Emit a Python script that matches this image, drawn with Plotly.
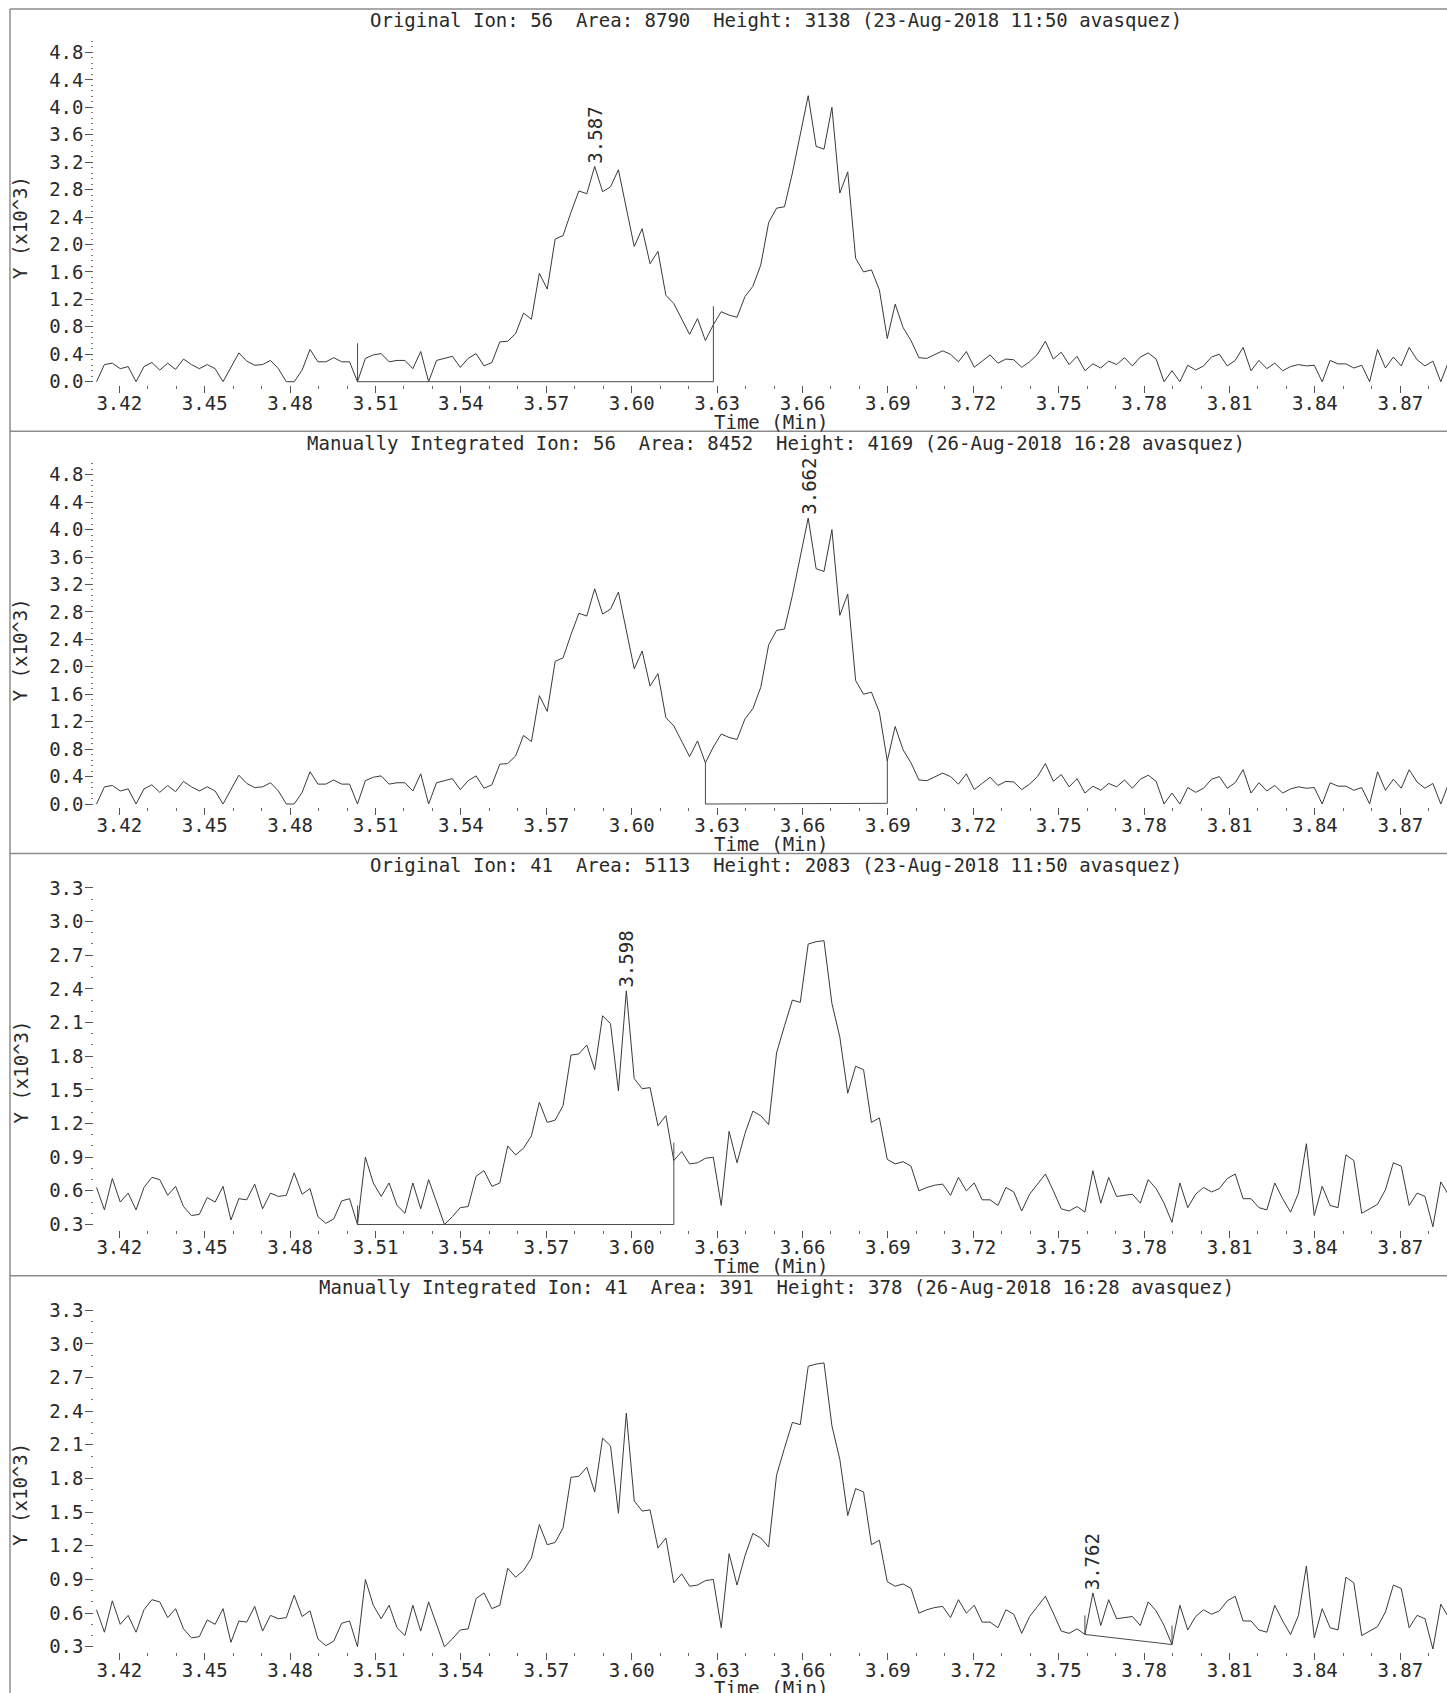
import plotly.graph_objects as go

W, H = 1447, 1693

# ---------------- data ----------------
SCAN_START = 3.412          # retention time of first scan (min)
SCAN_INTERVAL = 1 / 360.0   # min between scans

ION56 = [0.00, 0.25, 0.27, 0.19, 0.22, 0.00, 0.22, 0.28, 0.17, 0.27,
         0.18, 0.33, 0.25, 0.19, 0.25, 0.19, 0.00, 0.22, 0.42, 0.30,
         0.24, 0.25, 0.31, 0.19, 0.00, 0.00, 0.17, 0.47, 0.29, 0.29,
         0.35, 0.29, 0.29, 0.00, 0.34, 0.39, 0.41, 0.29, 0.31, 0.31,
         0.19, 0.44, 0.00, 0.31, 0.34, 0.37, 0.21, 0.34, 0.41, 0.23,
         0.28, 0.58, 0.59, 0.70, 1.00, 0.91, 1.58, 1.35, 2.08, 2.13,
         2.47, 2.78, 2.74, 3.138, 2.77, 2.84, 3.09, 2.55, 1.97, 2.23,
         1.72, 1.90, 1.26, 1.14, 0.92, 0.69, 0.92, 0.60, 0.83, 1.02,
         0.97, 0.94, 1.24, 1.39, 1.70, 2.32, 2.53, 2.55, 3.04, 3.62,
         4.169, 3.43, 3.39, 4.00, 2.75, 3.06, 1.80, 1.60, 1.63, 1.34,
         0.63, 1.13, 0.79, 0.60, 0.35, 0.34, 0.39, 0.45, 0.40, 0.29,
         0.44, 0.21, 0.30, 0.39, 0.27, 0.33, 0.32, 0.21, 0.29, 0.40,
         0.59, 0.33, 0.43, 0.25, 0.37, 0.16, 0.26, 0.20, 0.30, 0.25,
         0.35, 0.23, 0.36, 0.42, 0.33, 0.00, 0.16, 0.00, 0.24, 0.17,
         0.23, 0.36, 0.40, 0.23, 0.31, 0.50, 0.16, 0.31, 0.19, 0.27,
         0.16, 0.22, 0.25, 0.23, 0.24, 0.00, 0.31, 0.26, 0.26, 0.20,
         0.24, 0.00, 0.47, 0.20, 0.36, 0.23, 0.50, 0.32, 0.23, 0.30,
         0.00, 0.30]

ION41 = [0.63, 0.43, 0.71, 0.50, 0.58, 0.43, 0.63, 0.72, 0.70, 0.56,
         0.64, 0.46, 0.38, 0.39, 0.54, 0.50, 0.64, 0.34, 0.53, 0.52,
         0.66, 0.44, 0.58, 0.55, 0.56, 0.76, 0.57, 0.62, 0.37, 0.31,
         0.35, 0.51, 0.53, 0.30, 0.90, 0.67, 0.55, 0.67, 0.47, 0.40,
         0.67, 0.44, 0.70, 0.50, 0.30, 0.37, 0.45, 0.46, 0.73, 0.78,
         0.64, 0.67, 1.00, 0.92, 0.98, 1.09, 1.39, 1.21, 1.23, 1.36,
         1.81, 1.82, 1.90, 1.68, 2.16, 2.09, 1.49, 2.383, 1.60, 1.51,
         1.52, 1.18, 1.27, 0.87, 0.95, 0.84, 0.85, 0.89, 0.90, 0.47,
         1.13, 0.85, 1.11, 1.31, 1.27, 1.19, 1.83, 2.07, 2.30, 2.28,
         2.80, 2.82, 2.83, 2.27, 1.97, 1.47, 1.71, 1.68, 1.21, 1.25,
         0.88, 0.84, 0.86, 0.82, 0.60, 0.63, 0.65, 0.66, 0.56, 0.72,
         0.60, 0.67, 0.52, 0.52, 0.47, 0.63, 0.59, 0.42, 0.57, 0.66,
         0.75, 0.60, 0.44, 0.42, 0.46, 0.41, 0.78, 0.49, 0.72, 0.55,
         0.56, 0.57, 0.49, 0.70, 0.62, 0.49, 0.32, 0.67, 0.45, 0.57,
         0.63, 0.59, 0.62, 0.71, 0.75, 0.53, 0.53, 0.45, 0.43, 0.67,
         0.53, 0.41, 0.58, 1.02, 0.38, 0.64, 0.47, 0.45, 0.92, 0.87,
         0.40, 0.44, 0.48, 0.61, 0.85, 0.82, 0.47, 0.58, 0.55, 0.28,
         0.68, 0.56]

TITLES = [
    "Original Ion: 56  Area: 8790  Height: 3138 (23-Aug-2018 11:50 avasquez)",
    "Manually Integrated Ion: 56  Area: 8452  Height: 4169 (26-Aug-2018 16:28 avasquez)",
    "Original Ion: 41  Area: 5113  Height: 2083 (23-Aug-2018 11:50 avasquez)",
    "Manually Integrated Ion: 41  Area: 391  Height: 378 (26-Aug-2018 16:28 avasquez)",
]

# integration baselines (time, value) polylines per panel
INT_T = [[3.5037, 3.5037, 3.6287, 3.6287],
         [3.6259, 3.6259, 3.6898, 3.6898],
         [3.5037, 3.5037, 3.6148, 3.6148],
         [3.7592, 3.7592, 3.7898, 3.7898]]
INT_Y = [[0.56, 0.00, 0.00, 1.10],
         [0.60, 0.00, 0.01, 0.66],
         [0.47, 0.30, 0.30, 1.03],
         [0.58, 0.41, 0.32, 0.49]]

# labelled peaks (time, value, label)
PEAK_T = [3.5870, 3.6620, 3.5981, 3.7620]
PEAK_Y = [3.138, 4.169, 2.383, 0.78]
PEAK_LABEL = ["3.587", "3.662", "3.598", "3.762"]

X_TICK0, X_DTICK, X_MINOR = 3.42, 0.03, 0.01
Y_TICKS = [(0.0, 0.4, 0.08), (0.0, 0.4, 0.08), (0.3, 0.3, 0.1), (0.3, 0.3, 0.1)]
Y_RANGES = [(-0.048, 5.0), (-0.048, 5.0), (0.2554, 3.31), (0.2554, 3.31)]
X_RANGE = (3.41122, 3.8864)

# ---------------- layout geometry (pixels) ----------------
PANEL_TOPS = [9, 431.3, 853.5, 1275.8]
PLOT_LEFT = 94.3
Y_SCALE = [68.6, 68.6, 112.2, 112.2]   # px per unit
FONT = "DejaVu Sans Mono"
TXT = "#2a2a2a"
LINE = "#3a3a3a"

times = [SCAN_START + i * SCAN_INTERVAL for i in range(len(ION56))]
series = [ION56, ION56, ION41, ION41]

fig = go.Figure()
layout = dict(width=W, height=H, margin=dict(l=0, r=0, t=0, b=0, pad=0, autoexpand=False),
              paper_bgcolor="white", plot_bgcolor="white", showlegend=False)
annotations = []
shapes = []

for k in range(4):
    top = PANEL_TOPS[k]
    bottom_px = top + 376
    y0, y1 = Y_RANGES[k]
    top_px = bottom_px - (y1 - y0) * Y_SCALE[k]
    sfx = "" if k == 0 else str(k + 1)
    xa, ya = "x" + sfx, "y" + sfx
    tick0, dtick, minor = Y_TICKS[k]

    layout["xaxis" + sfx] = dict(
        domain=[PLOT_LEFT / W, 1.0], range=list(X_RANGE), anchor=ya, automargin=False,
        showgrid=False, zeroline=False, showline=False,
        ticks="outside", ticklen=7, tickwidth=1, tickcolor="#555",
        tickmode="linear", tick0=X_TICK0, dtick=X_DTICK, tickformat=".2f",
        ticklabelstandoff=-6,
        tickfont=dict(family=FONT, size=19, color=TXT),
        minor=dict(ticks="outside", ticklen=3, tickwidth=1, tickcolor="#666",
                   tick0=X_TICK0, dtick=X_MINOR, showgrid=False),
    )
    layout["yaxis" + sfx] = dict(
        domain=[1 - bottom_px / H, 1 - top_px / H], range=[y0, y1], anchor=xa, automargin=False,
        showgrid=False, zeroline=False, showline=False,
        ticks="outside", ticklen=8, tickwidth=1, tickcolor="#555",
        tickmode="linear", tick0=tick0, dtick=dtick, tickformat=".1f",
        ticklabelstandoff=-2,
        tickfont=dict(family=FONT, size=19, color=TXT),
        minor=dict(ticks="outside", ticklen=2, tickwidth=1, tickcolor="#777",
                   tick0=tick0, dtick=minor, showgrid=False),
    )

    fig.add_trace(go.Scatter(x=times, y=series[k], mode="lines", xaxis=xa, yaxis=ya,
                             line=dict(color=LINE, width=1), hoverinfo="skip"))
    fig.add_trace(go.Scatter(x=INT_T[k], y=INT_Y[k], mode="lines", xaxis=xa, yaxis=ya,
                             line=dict(color="#4a4a4a", width=1), hoverinfo="skip"))

    # title
    annotations.append(dict(text=TITLES[k].replace("  ", " \u00a0"), xref="paper", yref="paper",
                            x=776 / W, y=1 - (top + 11.5) / H, xanchor="center", yanchor="middle",
                            showarrow=False, font=dict(family=FONT, size=19, color=TXT)))
    # y axis title
    annotations.append(dict(text="Y (x10^3)", xref="paper", yref="paper", textangle=-90,
                            x=20 / W, y=1 - (top + 219) / H, xanchor="center", yanchor="middle",
                            showarrow=False, font=dict(family=FONT, size=19, color=TXT)))
    # x axis title
    annotations.append(dict(text="Time (Min)", xref="paper", yref="paper",
                            x=771 / W, y=1 - (top + 412.5) / H, xanchor="center", yanchor="middle",
                            showarrow=False, font=dict(family=FONT, size=19, color=TXT)))
    # peak label
    annotations.append(dict(text=PEAK_LABEL[k], xref=xa, yref=ya, textangle=-90,
                            x=PEAK_T[k], y=PEAK_Y[k], xanchor="center", yanchor="bottom",
                            yshift=1, showarrow=False, font=dict(family=FONT, size=19, color=TXT)))

    # panel frame lines
    shapes.append(dict(type="line", xref="paper", yref="paper", x0=10 / W, x1=1.0,
                       y0=1 - top / H, y1=1 - top / H, line=dict(color="#8c8c8c", width=1.5)))

shapes.append(dict(type="line", xref="paper", yref="paper", x0=10 / W, x1=10 / W,
                   y0=1 - PANEL_TOPS[0] / H, y1=0, line=dict(color="#8c8c8c", width=1.5)))

layout["annotations"] = annotations
layout["shapes"] = shapes
fig.update_layout(**layout)

# make the plot the only thing on the page, pinned at its top-left corner
PIN_JS = (
    "var d=document.getElementById('{plot_id}');var w=d.parentNode;"
    "document.body.insertBefore(d,document.body.firstChild);"
    "if(w&&w!==document.body){w.style.display='none';}"
    "var s=[document.documentElement,document.body];"
    "for(var i=0;i<2;i++){s[i].style.margin='0';s[i].style.padding='0';"
    "s[i].style.overflow='hidden';s[i].style.width='1447px';s[i].style.height='1693px';}"
    "d.style.position='absolute';d.style.left='0px';d.style.top='0px';"
    "window.scrollTo(0,0);"
)
fig.write_html("out.html", post_script=PIN_JS, config={"displayModeBar": False})
